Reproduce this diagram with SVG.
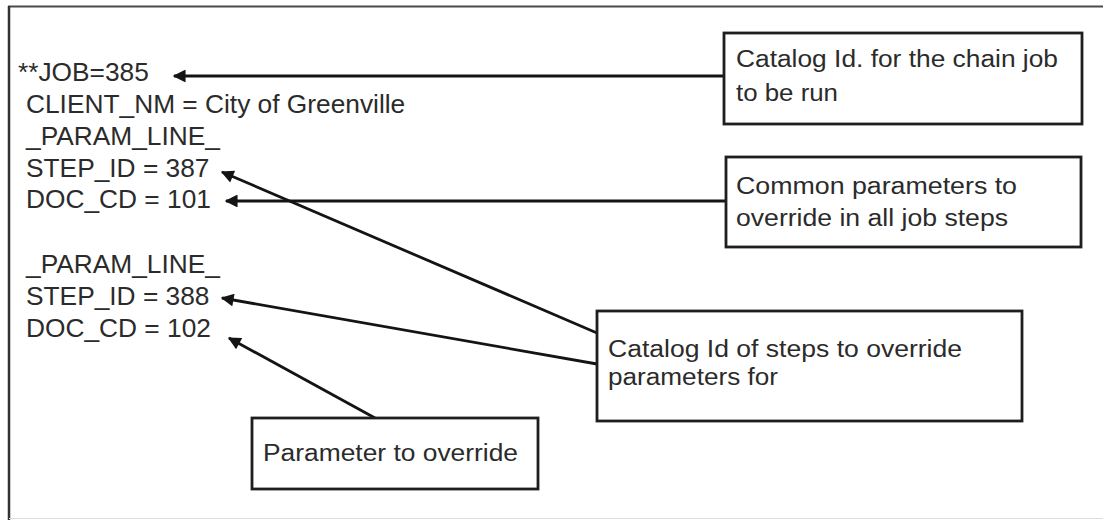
<svg xmlns="http://www.w3.org/2000/svg" width="1103" height="520" viewBox="0 0 1103 520">
<style>
.code{font-family:"Liberation Sans",Arial,sans-serif;font-size:26.3px;fill:#2b2b2b}
.lbl{font-family:"Liberation Sans",Arial,sans-serif;font-size:23.5px;fill:#2b2b2b}
.box{fill:#fff;stroke:#1e1e1e;stroke-width:2.8}
.conn{stroke:#141414;stroke-width:2.8;fill:none;marker-end:url(#ah)}
</style>
<defs>
<marker id="ah" viewBox="0 0 10 10" refX="9" refY="5" markerWidth="5" markerHeight="4.6" markerUnits="strokeWidth" orient="auto">
<path d="M0,0 L10,5 L0,10 z" fill="#141414"/>
</marker>
</defs>
<rect width="1103" height="520" fill="#fff"/>
<g id="frame">
<line x1="8" y1="6.5" x2="1103" y2="6.5" stroke="#4a4a4a" stroke-width="2"/>
<line x1="9" y1="6" x2="9" y2="520" stroke="#333" stroke-width="2.5"/>
<line x1="9" y1="518.5" x2="1103" y2="518.5" stroke="#ddd" stroke-width="1"/>
</g>
<g id="code">
<text class="code" x="18" y="81">**JOB=385</text>
<text class="code" x="26" y="113">CLIENT_NM = City of Greenville</text>
<text class="code" x="26" y="145">_PARAM_LINE_</text>
<text class="code" x="26" y="177">STEP_ID = 387</text>
<text class="code" x="26" y="208">DOC_CD = 101</text>
<text class="code" x="26" y="273">_PARAM_LINE_</text>
<text class="code" x="26" y="305">STEP_ID = 388</text>
<text class="code" x="26" y="337">DOC_CD = 102</text>
</g>
<g id="connectors">
<line class="conn" x1="723" y1="76" x2="174" y2="76"/>
<line class="conn" x1="726" y1="201" x2="226" y2="201"/>
<line class="conn" x1="597" y1="333" x2="222" y2="172"/>
<line class="conn" x1="597" y1="364" x2="222" y2="298"/>
<line class="conn" x1="375" y1="418" x2="229" y2="338"/>
</g>
<g id="node-catalog-job">
<rect class="box" x="724" y="33" width="358" height="91"/>
<text class="lbl" x="736" y="67" textLength="322" lengthAdjust="spacingAndGlyphs">Catalog Id. for the chain job</text>
<text class="lbl" x="736" y="101" textLength="102" lengthAdjust="spacingAndGlyphs">to be run</text>
</g>
<g id="node-common-params">
<rect class="box" x="726" y="157" width="355" height="90"/>
<text class="lbl" x="736" y="194" textLength="281" lengthAdjust="spacingAndGlyphs">Common parameters to</text>
<text class="lbl" x="736" y="226" textLength="272" lengthAdjust="spacingAndGlyphs">override in all job steps</text>
</g>
<g id="node-catalog-steps">
<rect class="box" x="597" y="311" width="425" height="110"/>
<text class="lbl" x="608" y="357" textLength="354" lengthAdjust="spacingAndGlyphs">Catalog Id of steps to override</text>
<text class="lbl" x="608" y="385" textLength="170" lengthAdjust="spacingAndGlyphs">parameters for</text>
</g>
<g id="node-param-override">
<rect class="box" x="252" y="418" width="286" height="71"/>
<text class="lbl" x="263" y="461" textLength="255" lengthAdjust="spacingAndGlyphs">Parameter to override</text>
</g>
</svg>
